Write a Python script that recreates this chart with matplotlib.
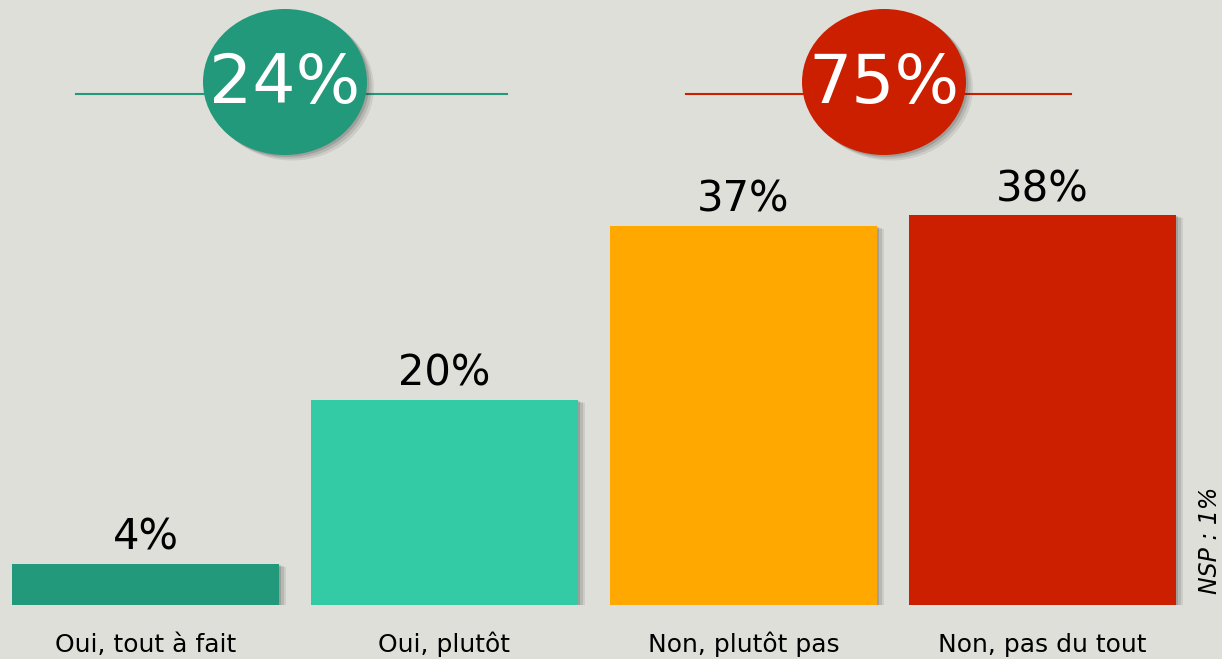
import matplotlib
matplotlib.use("Agg")
import matplotlib.pyplot as plt
from matplotlib.patches import Ellipse
import matplotlib.patheffects as pe

categories = ["Oui, tout à fait", "Oui, plutôt", "Non, plutôt pas", "Non, pas du tout"]
values = [4, 20, 37, 38]
bar_colors = ["#22997A", "#33CBA6", "#FFA800", "#CC1F00"]
summary_values = [24, 75]
summary_colors = ["#22997A", "#CC1F00"]
note_text = "NSP : 1%"

BG = "#DFDFDA"
W, H = 1222, 659
fig = plt.figure(figsize=(W / 100, H / 100), dpi=100, facecolor=BG)

# main bar axes: bottom at pixel 605, top at pixel 0
ax = fig.add_axes([0, (H - 605) / H, 1, 605 / H])
ax.set_facecolor("none")
ax.set_xlim(-145.5 / 299, (W - 145.5) / 299)
ax.set_ylim(0, 605 / 10.25)
ax.axis("off")

def soft_shadow(dx, dy):
    effs = []
    for k, a in [(1.0, 0.18), (2.0, 0.14), (3.0, 0.10)]:
        effs.append(pe.SimplePatchShadow(offset=(dx * k / 3, dy * k / 3),
                                         shadow_rgbFace="#333333", alpha=a))
    effs.append(pe.Normal())
    return effs

x = list(range(len(categories)))
bars = ax.bar(x, values, width=267 / 299, color=bar_colors, zorder=2)
for b in bars:
    b.set_path_effects(soft_shadow(5, -2))

for xi, v, c in zip(x, values, categories):
    ax.text(xi, v + 1.4, f"{v}%", ha="center", va="baseline", fontsize=30, color="black")
    ax.text(xi, -4.6, c, ha="center", va="baseline", fontsize=18, color="black", clip_on=False)

# overlay for summary bubbles (pixel coordinates)
ov = fig.add_axes([0, 0, 1, 1])
ov.set_facecolor("none")
ov.set_xlim(0, W)
ov.set_ylim(H, 0)
ov.axis("off")

bubble_specs = [((285, 82), (76, 507)), ((884, 82), (686, 1071))]
for (center, (x0, x1)), val, col in zip(bubble_specs, summary_values, summary_colors):
    ov.plot([x0, x1], [94, 94], color=col, lw=1.5, zorder=1)
    e = Ellipse(center, 164, 146, facecolor=col, edgecolor="none", zorder=2)
    e.set_path_effects(soft_shadow(5, -4))
    ov.add_patch(e)
    ov.text(center[0], 84, f"{val}%", ha="center", va="center", fontsize=49, color="white", zorder=3)

ov.text(1210, 540, note_text, rotation=90, ha="center", va="center", fontsize=17,
        style="italic", color="black")

fig.savefig("out.png", dpi=100, facecolor=BG)
